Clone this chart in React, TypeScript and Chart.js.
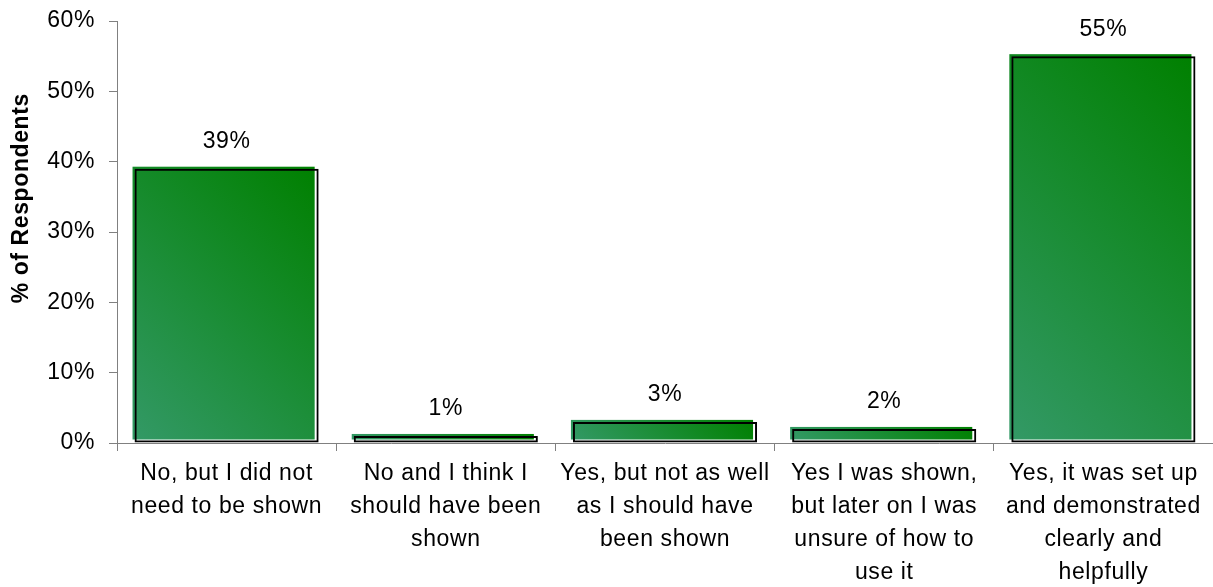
import React, { useEffect, useRef } from "react";
import { Chart, registerables } from "chart.js";

Chart.register(...registerables);

const categories: string[][] = [
  ["No, but I did not", "need to be shown"],
  ["No and I think I", "should have been", "shown"],
  ["Yes, but not as well", "as I should have", "been shown"],
  ["Yes I was shown,", "but later on I was", "unsure of how to", "use it"],
  ["Yes, it was set up", "and demonstrated", "clearly and", "helpfully"],
];
const respondents: number[] = [39, 1, 3, 2, 55];
const yTicks = { min: 0, max: 60, step: 10 };
const yTitle = "% of Respondents";

const FONT = "'Liberation Sans', Arial, sans-serif";
const SPACING = "0.6px";

const spacing = {
  id: "spacing",
  beforeLayout(chart: any) {
    chart.ctx.letterSpacing = SPACING;
  },
  beforeDraw(chart: any) {
    chart.ctx.letterSpacing = SPACING;
  },
};

const offsetFill = {
  id: "offsetFill",
  beforeDatasetsDraw(chart: any) {
    const ctx = chart.ctx;
    const meta = chart.getDatasetMeta(0);
    ctx.save();
    meta.data.forEach((bar: any) => {
      const { x, y, base, width } = bar.getProps(["x", "y", "base", "width"], true);
      const left = x - width / 2 - 2;
      const right = x + width / 2 - 4;
      const top = y - 2;
      const bottom = base - 3;
      const w = right - left;
      const h = bottom - top;
      const d = (w + h) / 2;
      const g = ctx.createLinearGradient(left, bottom, left + d, bottom - d);
      g.addColorStop(0, "#339966");
      g.addColorStop(1, "#008000");
      ctx.fillStyle = g;
      ctx.fillRect(left, top, w, h);
    });
    ctx.restore();
  },
};

const valueLabels = {
  id: "valueLabels",
  afterDatasetsDraw(chart: any) {
    const ctx = chart.ctx;
    const meta = chart.getDatasetMeta(0);
    const data = chart.data.datasets[0].data;
    ctx.save();
    ctx.letterSpacing = SPACING;
    ctx.font = `23px ${FONT}`;
    ctx.fillStyle = "#000";
    ctx.textAlign = "center";
    ctx.textBaseline = "middle";
    meta.data.forEach((bar: any, i: number) => {
      const { x, y } = bar.getProps(["x", "y"], true);
      ctx.fillText(`${data[i]}%`, x, y - 27);
    });
    ctx.restore();
  },
};

const axisTitle = {
  id: "axisTitle",
  afterDraw(chart: any) {
    const ctx = chart.ctx;
    const area = chart.chartArea;
    ctx.save();
    ctx.letterSpacing = SPACING;
    ctx.font = `bold 23px ${FONT}`;
    ctx.fillStyle = "#000";
    ctx.textAlign = "center";
    ctx.textBaseline = "middle";
    ctx.translate(22, area.top + (area.bottom - area.top) * 0.42);
    ctx.rotate(-Math.PI / 2);
    ctx.fillText(yTitle, 0, 0);
    ctx.restore();
  },
};

export default function App() {
  const ref = useRef<HTMLCanvasElement>(null);
  useEffect(() => {
    if (!ref.current) return;
    const chart = new Chart(ref.current, {
      type: "bar",
      data: {
        labels: categories,
        datasets: [
          {
            data: respondents,
            backgroundColor: "rgba(0,0,0,0)",
            borderColor: "#000",
            borderWidth: 2,
            borderSkipped: false,
            barPercentage: 0.84,
            categoryPercentage: 1,
          },
        ],
      },
      plugins: [spacing, offsetFill, valueLabels, axisTitle],
      options: {
        responsive: false,
        animation: false,
        devicePixelRatio: 1,
        layout: { padding: { top: 21, left: 0, right: 0, bottom: 0 } },
        plugins: { legend: { display: false }, tooltip: { enabled: false } },
        scales: {
          x: {
            afterFit: (s: any) => {
              s.height = 144;
              s.paddingLeft = 0;
              s.paddingRight = 0;
            },
            grid: {
              offset: true,
              drawOnChartArea: false,
              drawTicks: true,
              tickLength: 8,
              color: "#808080",
            },
            border: { color: "#808080" },
            ticks: {
              color: "#000",
              font: { family: FONT, size: 23, lineHeight: 33 / 23 },
              padding: 6,
              maxRotation: 0,
              minRotation: 0,
              autoSkip: false,
            },
          },
          y: {
            min: yTicks.min,
            max: yTicks.max,
            afterFit: (s: any) => {
              s.width = 117;
              s.paddingTop = 0;
              s.paddingBottom = 0;
            },
            grid: {
              drawOnChartArea: false,
              drawTicks: true,
              tickLength: 8,
              color: "#808080",
            },
            border: { color: "#808080" },
            ticks: {
              stepSize: yTicks.step,
              color: "#000",
              font: { family: FONT, size: 23 },
              padding: 14,
              callback: (v: any) => `${v}%`,
            },
          },
        },
      },
    });
    return () => chart.destroy();
  }, []);
  return (
    <div style={{ position: "fixed", left: 0, top: 0, width: 1213, height: 587, background: "#fff" }}>
      <canvas ref={ref} width={1213} height={587} style={{ display: "block" }} />
    </div>
  );
}
